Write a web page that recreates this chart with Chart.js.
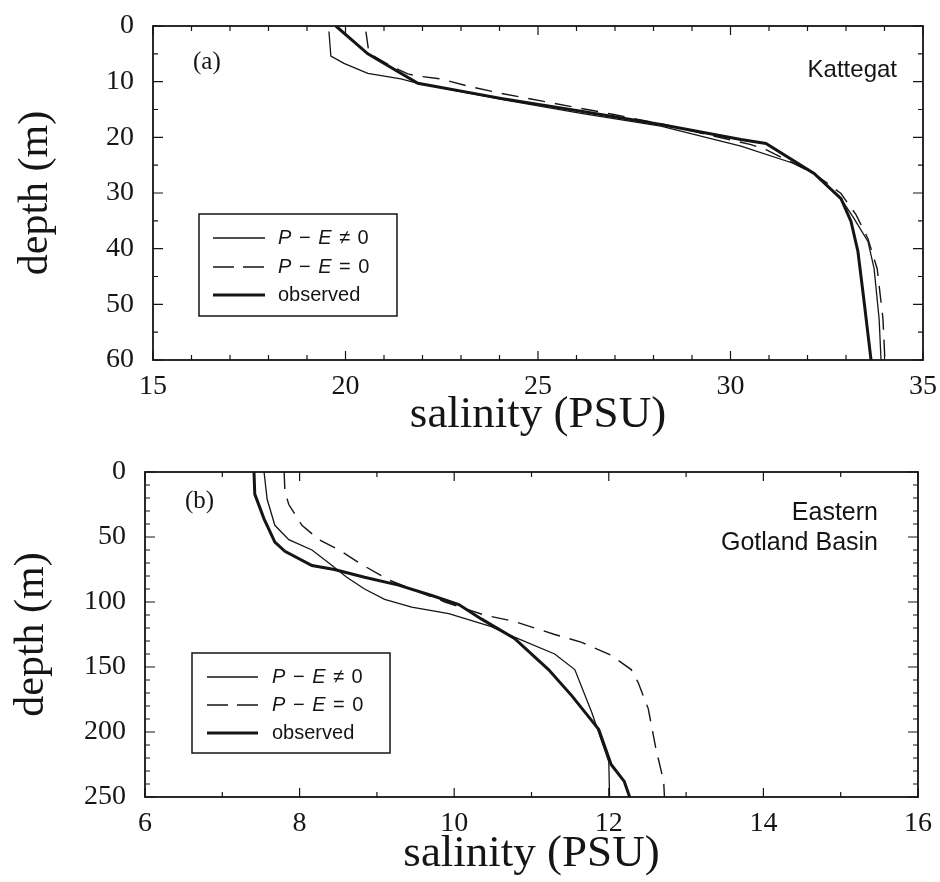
<!DOCTYPE html>
<html>
<head>
<meta charset="utf-8">
<title>Salinity profiles</title>
<script src="https://cdn.jsdelivr.net/npm/chart.js@4.4.1/dist/chart.umd.min.js"></script>
<style>
  html, body { margin: 0; padding: 0; background: #fff; }
  canvas { display: block; }
</style>
</head>
<body>
<canvas id="chart-a" width="940" height="445"></canvas>
<canvas id="chart-b" width="940" height="437"></canvas>
<script>
// ---- (a) Kattegat ----
const kattObsSal   = [19.75, 20.58, 21.88, 24.04, 26.12, 28.19, 30.27, 30.92, 32.17, 32.87, 33.13, 33.31, 33.47, 33.65];
const kattObsDepth = [0, 5.0, 10.3, 13.0, 15.3, 17.7, 20.4, 21.1, 26.5, 31.0, 35.1, 40.5, 49.5, 60];

const kattPeSal   = [19.57, 19.62, 19.96, 20.58, 21.44, 21.88, 24.04, 26.12, 28.19, 30.27, 31.65, 32.17, 32.87, 33.21, 33.57, 33.73, 33.86, 33.91];
const kattPeDepth = [1, 5.4, 6.7, 8.5, 9.5, 10.3, 13.2, 15.7, 18.0, 21.6, 24.7, 26.5, 31.0, 34.6, 38.7, 43.6, 52.6, 60];

const kattNoPeSal   = [20.53, 20.61, 21.18, 21.62, 21.88, 22.48, 23.18, 24.04, 25.42, 26.97, 28.27, 30.53, 30.92, 32.17, 32.87, 33.26, 33.57, 33.81, 33.96, 34.01];
const kattNoPeDepth = [1, 4.9, 7.2, 8.6, 9.0, 9.5, 10.8, 12.1, 13.9, 15.9, 17.7, 21.3, 22.2, 26.5, 30.1, 33.9, 38.2, 43.6, 52.6, 60];

const kattSalTicks   = [15, 20, 25, 30, 35];
const kattSalMinor   = [16, 17, 18, 19, 21, 22, 23, 24, 26, 27, 28, 29, 31, 32, 33, 34];
const kattDepthTicks = [0, 10, 20, 30, 40, 50, 60];
const kattDepthMinor = [5, 15, 25, 35, 45, 55];

// ---- (b) Eastern Gotland Basin ----
const gotObsSal   = [7.41, 7.42, 7.54, 7.68, 7.81, 8.16, 8.45, 8.84, 9.28, 9.71, 10.06, 10.35, 10.78, 11.22, 11.52, 11.87, 12.03, 12.20, 12.27];
const gotObsDepth = [0, 17, 36, 54, 61, 72, 75, 81, 87, 95, 102, 113, 128, 152, 172, 198, 225, 238, 250];

const gotPeSal   = [7.54, 7.58, 7.68, 7.86, 8.16, 8.42, 8.61, 8.84, 9.10, 9.45, 9.93, 10.48, 10.78, 11.30, 11.56, 11.78, 12.00, 12.01];
const gotPeDepth = [0, 21, 41, 52, 60, 72, 81, 90, 98, 104, 109, 119, 127, 140, 152, 185, 223, 250];

const gotNoPeSal   = [7.80, 7.81, 7.86, 8.03, 8.25, 8.51, 8.80, 9.15, 9.49, 9.88, 10.39, 10.78, 11.30, 11.65, 12.03, 12.29, 12.38, 12.51, 12.61, 12.71, 12.72];
const gotNoPeDepth = [0, 15, 25, 41, 52, 60, 71, 83, 91, 100, 110, 115, 125, 131, 141, 152, 162, 182, 213, 238, 250];

const gotSalTicks   = [6, 8, 10, 12, 14, 16];
const gotSalMinor   = [7, 9, 11, 13, 15];
const gotDepthTicks = [0, 50, 100, 150, 200, 250];
const gotDepthMinor = [10, 20, 30, 40, 60, 70, 80, 90, 110, 120, 130, 140, 160, 170, 180, 190, 210, 220, 230, 240];

const seriesLabels = ['P \u2212 E \u2260 0', 'P \u2212 E = 0', 'observed'];

const INK = '#151515';
const SERIF = "'Liberation Serif', 'Times New Roman', serif";
const SANS = "'Liberation Sans', Arial, sans-serif";

function pairs(xs, ys) {
    return xs.map((x, i) => ({ x: x, y: ys[i] }));
}

// frame round the plot plus inward ticks on all four sides
const frameTicks = {
    id: 'frameTicks',
    afterDatasetsDraw(chart, args, opts) {
        const { ctx, chartArea: a, scales: { x, y } } = chart;
        ctx.save();
        ctx.strokeStyle = INK;
        ctx.lineWidth = 1.8;
        ctx.strokeRect(a.left, a.top, a.right - a.left, a.bottom - a.top);
        ctx.lineWidth = 1.2;
        ctx.beginPath();
        const xMarks = (vals, len) => vals.forEach(v => {
            const px = x.getPixelForValue(v);
            ctx.moveTo(px, a.bottom); ctx.lineTo(px, a.bottom - len);
            ctx.moveTo(px, a.top); ctx.lineTo(px, a.top + len);
        });
        const yMarks = (vals, len) => vals.forEach(v => {
            const py = y.getPixelForValue(v);
            ctx.moveTo(a.left, py); ctx.lineTo(a.left + len, py);
            ctx.moveTo(a.right, py); ctx.lineTo(a.right - len, py);
        });
        xMarks(opts.xMajor, 9);
        xMarks(opts.xMinor, 5);
        yMarks(opts.yMajor, 10);
        yMarks(opts.yMinor, 5);
        ctx.stroke();
        ctx.restore();
    }
};

// boxed legend drawn from the dataset styles
// (capital letters of the P - E labels in italic, the rest upright)
const boxLegend = {
    id: 'boxLegend',
    afterDraw(chart, args, opts) {
        const ctx = chart.ctx;
        const b = opts.box;
        ctx.save();
        ctx.strokeStyle = INK;
        ctx.lineWidth = 1.5;
        ctx.strokeRect(b.x, b.y, b.w, b.h);
        chart.data.datasets.forEach((ds, i) => {
            const rowY = opts.rows[i];
            ctx.beginPath();
            ctx.lineWidth = ds.borderWidth;
            ctx.setLineDash(ds.borderDash && ds.borderDash.length ? [21, 9] : []);
            ctx.moveTo(opts.lineFrom, rowY);
            ctx.lineTo(opts.lineTo, rowY);
            ctx.stroke();
            ctx.setLineDash([]);
            ctx.fillStyle = INK;
            ctx.textBaseline = 'middle';
            ctx.textAlign = 'left';
            let tx = opts.textX;
            for (const ch of ds.label) {
                const italic = ds.legendItalic && /[A-Z]/.test(ch);
                ctx.font = (italic ? 'italic ' : '') + '20px ' + SANS;
                ctx.fillText(ch, tx, rowY);
                tx += ctx.measureText(ch).width + (ds.legendItalic ? 1 : 0);
            }
        });
        ctx.restore();
    }
};

// panel letter and basin name
const notes = {
    id: 'notes',
    afterDraw(chart, args, opts) {
        const ctx = chart.ctx;
        ctx.save();
        ctx.fillStyle = INK;
        ctx.textBaseline = 'alphabetic';
        opts.items.forEach(n => {
            ctx.font = n.font;
            ctx.textAlign = n.align;
            ctx.fillText(n.text, n.x, n.y);
        });
        ctx.restore();
    }
};

function makeProfile(canvasId, cfg) {
    const datasets = [
        { label: seriesLabels[0], data: pairs(cfg.pe[0], cfg.pe[1]), borderWidth: 1.3, borderDash: [], legendItalic: true },
        { label: seriesLabels[1], data: pairs(cfg.noPe[0], cfg.noPe[1]), borderWidth: 1.4, borderDash: [17, 10], legendItalic: true },
        { label: seriesLabels[2], data: pairs(cfg.obs[0], cfg.obs[1]), borderWidth: 3, borderDash: [], legendItalic: false }
    ].map(ds => Object.assign(ds, {
        showLine: true,
        borderColor: INK,
        backgroundColor: INK,
        pointRadius: 0,
        tension: 0,
        fill: false
    }));

    return new Chart(document.getElementById(canvasId), {
        type: 'scatter',
        data: { datasets: datasets },
        plugins: [frameTicks, boxLegend, notes],
        options: {
            responsive: false,
            animation: false,
            layout: { padding: { top: cfg.padTop, right: cfg.padRight, bottom: 0, left: 0 } },
            scales: {
                x: {
                    type: 'linear',
                    position: 'bottom',
                    min: cfg.xTicks[0],
                    max: cfg.xTicks[cfg.xTicks.length - 1],
                    grid: { display: false, drawTicks: false },
                    border: { display: false },
                    afterBuildTicks: s => { s.ticks = cfg.xTicks.map(v => ({ value: v })); },
                    afterFit: s => {
                        s.height = cfg.xHeight;
                        s.paddingLeft = 0;
                        s.paddingRight = 0;
                    },
                    ticks: { padding: 10, color: INK, maxRotation: 0, font: { family: SERIF, size: 28 } },
                    title: {
                        display: true,
                        text: 'salinity (PSU)',
                        color: INK,
                        font: { family: SERIF, size: 45 },
                        padding: { top: 0, bottom: cfg.xTitlePad }
                    }
                },
                y: {
                    type: 'linear',
                    reverse: true,
                    min: cfg.yTicks[0],
                    max: cfg.yTicks[cfg.yTicks.length - 1],
                    grid: { display: false, drawTicks: false },
                    border: { display: false },
                    afterBuildTicks: s => { s.ticks = cfg.yTicks.map(v => ({ value: v })); },
                    afterFit: s => {
                        s.width = cfg.yWidth;
                        s.paddingTop = 0;
                        s.paddingBottom = 0;
                    },
                    ticks: { padding: 19, color: INK, font: { family: SERIF, size: 28 } },
                    title: {
                        display: true,
                        text: 'depth (m)',
                        color: INK,
                        font: { family: SERIF, size: 42 },
                        padding: { top: cfg.yTitlePad, bottom: 0 }
                    }
                }
            },
            plugins: {
                legend: { display: false },
                tooltip: { enabled: false },
                frameTicks: { xMajor: cfg.xTicks, xMinor: cfg.xMinor, yMajor: cfg.yTicks, yMinor: cfg.yMinor },
                boxLegend: cfg.legend,
                notes: { items: cfg.notes }
            }
        }
    });
}

makeProfile('chart-a', {
    obs: [kattObsSal, kattObsDepth],
    pe: [kattPeSal, kattPeDepth],
    noPe: [kattNoPeSal, kattNoPeDepth],
    xTicks: kattSalTicks, xMinor: kattSalMinor,
    yTicks: kattDepthTicks, yMinor: kattDepthMinor,
    padTop: 26, padRight: 17, yWidth: 153, xHeight: 85,
    xTitlePad: 3, yTitlePad: 11,
    legend: { box: { x: 199, y: 214, w: 198, h: 102 }, rows: [238, 267, 295], lineFrom: 213, lineTo: 265, textX: 278 },
    notes: [
        { text: '(a)', x: 193, y: 69, align: 'left', font: '25px ' + SERIF },
        { text: 'Kattegat', x: 897, y: 77, align: 'right', font: '24px ' + SANS }
    ]
});

makeProfile('chart-b', {
    obs: [gotObsSal, gotObsDepth],
    pe: [gotPeSal, gotPeDepth],
    noPe: [gotNoPeSal, gotNoPeDepth],
    xTicks: gotSalTicks, xMinor: gotSalMinor,
    yTicks: gotDepthTicks, yMinor: gotDepthMinor,
    padTop: 27, padRight: 22, yWidth: 145, xHeight: 85,
    xTitlePad: 1, yTitlePad: 7,
    legend: { box: { x: 192, y: 208, w: 198, h: 100 }, rows: [232, 260, 288], lineFrom: 207, lineTo: 258, textX: 272 },
    notes: [
        { text: '(b)', x: 185, y: 63, align: 'left', font: '25px ' + SERIF },
        { text: 'Eastern', x: 878, y: 75, align: 'right', font: '25px ' + SANS },
        { text: 'Gotland Basin', x: 878, y: 105, align: 'right', font: '25px ' + SANS }
    ]
});
</script>
</body>
</html>
